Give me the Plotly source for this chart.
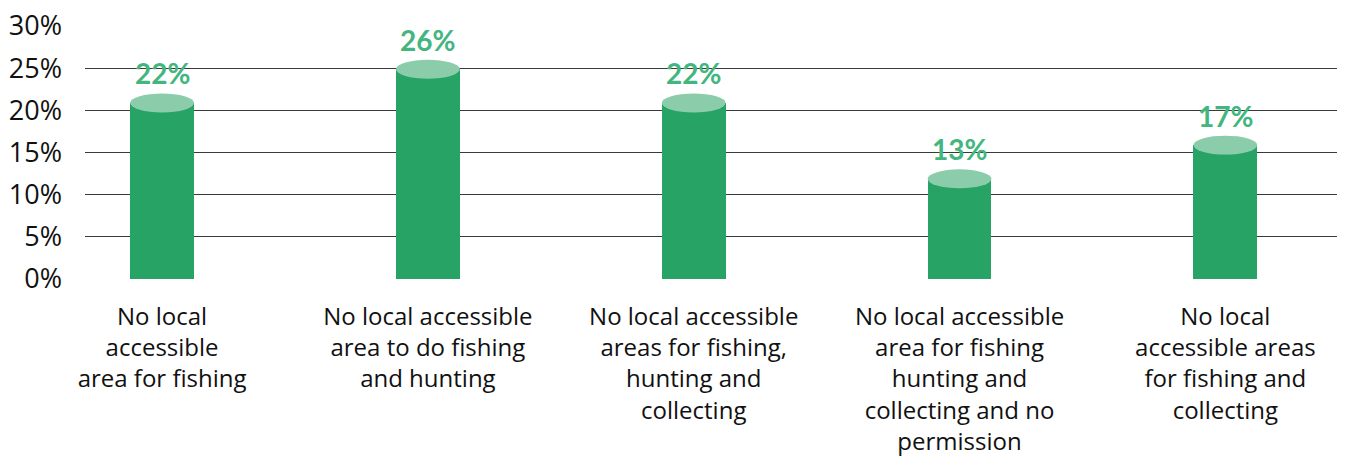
import plotly.graph_objects as go

categories = [
    "No local<br>accessible<br>area for fishing",
    "No local accessible<br>area to do fishing<br>and hunting",
    "No local accessible<br>areas for fishing,<br>hunting and<br>collecting",
    "No local accessible<br>area for fishing<br>hunting and<br>collecting and no<br>permission",
    "No local<br>accessible areas<br>for fishing and<br>collecting",
]
values = [22, 26, 22, 13, 17]
tick_vals_y = [0, 5, 10, 15, 20, 25, 30]
tick_text_y = ["0%", "5%", "10%", "15%", "20%", "25%", "30%"]

positions = list(range(len(categories)))
bar_w = 0.24
cap_h = 2.25  # ellipse height in data units

BAR_COLOR = "#27a465"
CAP_COLOR = "#8bcdab"
LABEL_COLOR = "#43b67f"
FONT = "Open Sans"

fig = go.Figure()
fig.add_trace(go.Bar(
    x=positions,
    y=[v - cap_h / 2 for v in values],
    width=bar_w,
    marker=dict(color=BAR_COLOR, line=dict(width=0)),
    hoverinfo="skip",
))

shapes = []
annotations = []
for p, v in zip(positions, values):
    shapes.append(dict(
        type="circle", xref="x", yref="y",
        x0=p - bar_w / 2, x1=p + bar_w / 2,
        y0=v - cap_h, y1=v,
        fillcolor=CAP_COLOR, line=dict(width=0), layer="above",
    ))
    annotations.append(dict(
        x=p, y=v, xref="x", yref="y", text=f"{v}%",
        showarrow=False, yanchor="middle", yshift=20,
        font=dict(family="Lato", size=28, color=LABEL_COLOR, weight="bold"),
    ))

fig.update_layout(
    width=1345, height=462,
    margin=dict(l=85, r=8, t=26, b=183),
    plot_bgcolor="white", paper_bgcolor="white",
    showlegend=False,
    shapes=shapes,
    annotations=annotations,
    font=dict(family=FONT, color="#111111"),
    bargap=0,
)
fig.update_xaxes(
    range=[-0.29, 4.42],
    tickvals=positions, ticktext=categories,
    tickfont=dict(size=24, family=FONT, color="#111111"),
    showgrid=False, zeroline=False, showline=False, ticks="",
    tickangle=0, automargin=False, ticklabelstandoff=21,
)
fig.update_yaxes(
    range=[0, 30],
    tickvals=tick_vals_y, ticktext=tick_text_y,
    tickfont=dict(size=27, family=FONT, color="#111111"),
    showgrid=True, gridcolor="#3a3a3a", gridwidth=1.3,
    zeroline=False, showline=False, ticks="",
    automargin=False, ticklabelstandoff=22,
)
fig.write_html("out.html", config={"displayModeBar": False},
               post_script="document.body.style.margin='0';")
